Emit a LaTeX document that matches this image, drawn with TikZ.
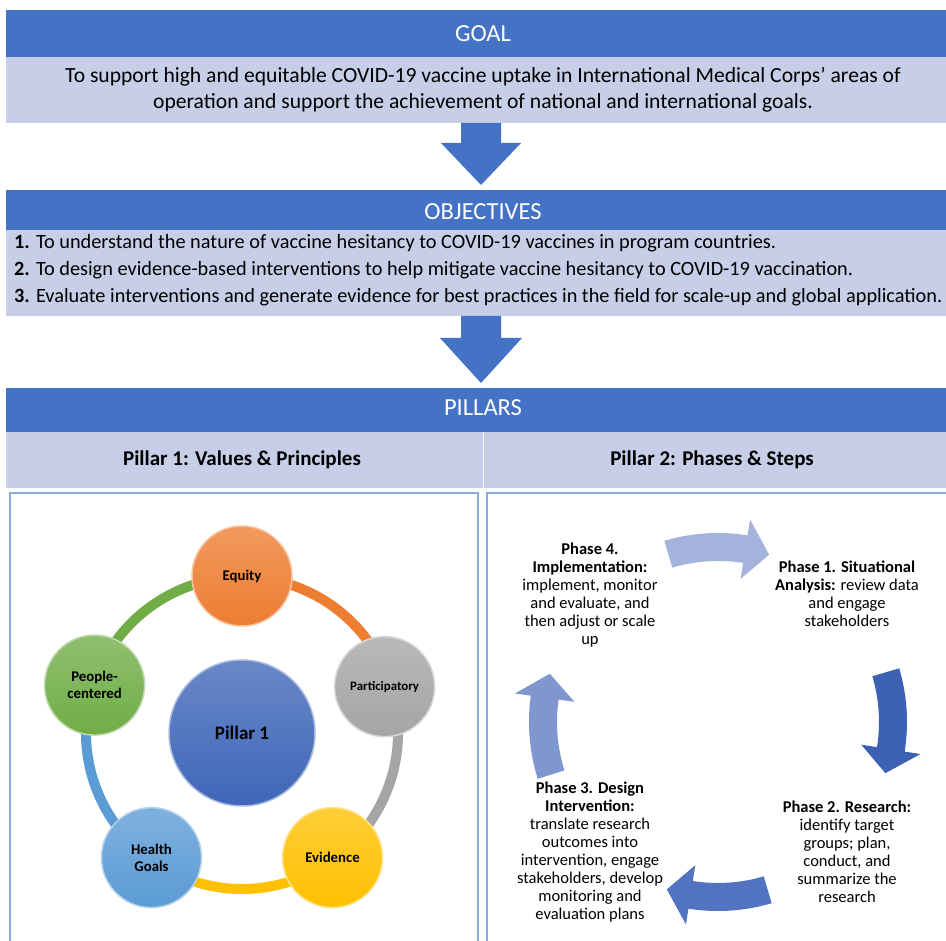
\documentclass[tikz,border=0pt]{standalone}
\usepackage{fontspec}
\setmainfont{Carlito}
\usetikzlibrary{calc}
\definecolor{dkblue}{HTML}{4472C4}
\definecolor{ltblue}{HTML}{C7CFE8}
\definecolor{boxline}{HTML}{8EA9DB}
\definecolor{cOrange}{HTML}{ED7D31}
\definecolor{cGray}{HTML}{A5A5A5}
\definecolor{cYellow}{HTML}{FFC000}
\definecolor{cBlue}{HTML}{5B9BD5}
\definecolor{cGreen}{HTML}{70AD47}
\definecolor{cCenter}{HTML}{3F66B8}
\definecolor{aTop}{HTML}{A3B3DC}
\definecolor{aRight}{HTML}{3D62B4}
\definecolor{aBottom}{HTML}{5274C0}
\definecolor{aLeft}{HTML}{7F96CF}
\begin{document}
\begin{tikzpicture}[x=1pt,y=1pt,
  darkband/.style={fill=dkblue, draw=none, inner sep=0, anchor=north west},
  lightband/.style={fill=ltblue, draw=none, inner sep=0, anchor=north west},
  headtxt/.style={text=white, font=\fontsize{24.5}{28}\selectfont},
  bodytxt/.style={text=black, font=\fontsize{21.6}{26}\selectfont, align=center},
  objtxt/.style={text=black, font=\fontsize{20.3}{24}\selectfont, anchor=west, inner sep=0},
  subtxt/.style={text=black, font=\bfseries\fontsize{21}{24}\selectfont},
  downarrow/.style={fill=dkblue, draw=none},
  panel/.style={draw=boxline, line width=2.5, fill=white},
  pc/.style={circle, draw=#1!45!white, line width=1.5, top color=#1!78!white, bottom color=#1, minimum size=100, inner sep=0, align=center, text=black, font=\bfseries\fontsize{14.8}{17}\selectfont},
  ringseg/.style={line width=10, draw=#1},
  phasetxt/.style={align=center, text=black, font=\fontsize{16.5}{18.1}\selectfont}
]
\useasboundingbox (0,0) rectangle (946,-941);
\fill[white] (0,0) rectangle (946,-941);

% GOAL
\node[darkband, minimum width=940, minimum height=47] (goalhead) at (6,-10) {};
\node[lightband, minimum width=940, minimum height=66] (goalbody) at (6,-57) {};
\node[headtxt] (goalt) at (483,-34) {GOAL};
\node[bodytxt] (goalb) at (483,-90) {To support high and equitable COVID-19 vaccine uptake in International Medical Corps’ areas of\\ operation and support the achievement of national and international goals.};

% arrow 1
\fill[downarrow] (461,-123) -- (501,-123) -- (501,-143) -- (521,-143) -- (481,-185) -- (441,-143) -- (461,-143) -- cycle;

% OBJECTIVES
\node[darkband, minimum width=940, minimum height=40] (objhead) at (6,-190) {};
\node[lightband, minimum width=940, minimum height=86] (objbody) at (6,-230) {};
\node[headtxt] (objt) at (483,-212) {OBJECTIVES};
\node[objtxt] (o1) at (14,-243) {\textbf{1.} To understand the nature of vaccine hesitancy to COVID-19 vaccines in program countries.};
\node[objtxt] (o2) at (14,-270) {\textbf{2.} To design evidence-based interventions to help mitigate vaccine hesitancy to COVID-19 vaccination.};
\node[objtxt] (o3) at (14,-297) {\textbf{3.} Evaluate interventions and generate evidence for best practices in the field for scale-up and global application.};

% arrow 2
\fill[downarrow] (461,-316) -- (501,-316) -- (501,-338) -- (522,-338) -- (481,-383) -- (440,-338) -- (461,-338) -- cycle;

% PILLARS
\node[darkband, minimum width=940, minimum height=44] (pilhead) at (6,-388) {};
\node[lightband, minimum width=940, minimum height=56] (pilbody) at (6,-432) {};
\draw[white!85!ltblue, line width=1] (483,-432) -- (483,-488);
\node[headtxt] (pilt) at (483,-408) {PILLARS};
\node[subtxt] (p1t) at (242,-460) {Pillar 1: Values \& Principles};
\node[subtxt] (p2t) at (712,-460) {Pillar 2: Phases \& Steps};

% panels
\draw[panel] (10,-493) rectangle (478,-948);
\draw[panel] (487,-493) rectangle (952,-948);

% Pillar 1 ring
\coordinate (ringc) at (242,-733);
\draw[ringseg=cOrange] ($(ringc)+(90:156)$) arc[start angle=90, end angle=18, radius=156];
\draw[ringseg=cGray] ($(ringc)+(18:156)$) arc[start angle=18, end angle=-54, radius=156];
\draw[ringseg=cYellow] ($(ringc)+(-54:156)$) arc[start angle=-54, end angle=-126, radius=156];
\draw[ringseg=cBlue] ($(ringc)+(-126:156)$) arc[start angle=-126, end angle=-198, radius=156];
\draw[ringseg=cGreen] ($(ringc)+(162:156)$) arc[start angle=162, end angle=90, radius=156];

\node[pc=cCenter, minimum size=146, font=\bfseries\fontsize{19}{22}\selectfont] (pillar) at (ringc) {Pillar 1};
\node[pc=cOrange] (equity) at ($(ringc)+(90:157)$) {Equity};
\node[pc=cGray, font=\bfseries\fontsize{12.9}{15}\selectfont] (partic) at ($(ringc)+(18:150)$) {Participatory};
\node[pc=cYellow] (evid) at ($(ringc)+(-54:154)$) {Evidence};
\node[pc=cBlue] (health) at ($(ringc)+(-126:154)$) {Health\\Goals};
\node[pc=cGreen] (people) at ($(ringc)+(162:155)$) {People-\\centered};

% Pillar 2 cycle
\begin{scope}[shift={(718,-722)}]
\foreach \c/\col in {90/aTop, 0/aRight, -90/aBottom, 181/aLeft} {
  \pgfmathsetmacro\ta{\c+16.5}
  \pgfmathsetmacro\hb{\c-9}
  \pgfmathsetmacro\tp{\c-17}
  \fill[\col] (\ta:189) arc[start angle=\ta, end angle=\hb, radius=189] -- (\hb:205) -- (\tp:175) -- (\hb:145) -- (\hb:161) arc[start angle=\hb, end angle=\ta, radius=161] -- cycle;
}
\end{scope}

\node[phasetxt] (ph4) at (590,-595) {\textbf{Phase 4.}\\ \textbf{Implementation:}\\ implement, monitor\\ and evaluate, and\\ then adjust or scale\\ up};
\node[phasetxt] (ph1) at (847,-594) {\textbf{Phase 1. Situational}\\ \textbf{Analysis:} review data\\ and engage\\ stakeholders};
\node[phasetxt] (ph2) at (847,-852) {\textbf{Phase 2. Research:}\\ identify target\\ groups; plan,\\ conduct, and\\ summarize the\\ research};
\node[phasetxt] (ph3) at (590,-852) {\textbf{Phase 3. Design}\\ \textbf{Intervention:}\\ translate research\\ outcomes into\\ intervention, engage\\ stakeholders, develop\\ monitoring and\\ evaluation plans};
\end{tikzpicture}
\end{document}
